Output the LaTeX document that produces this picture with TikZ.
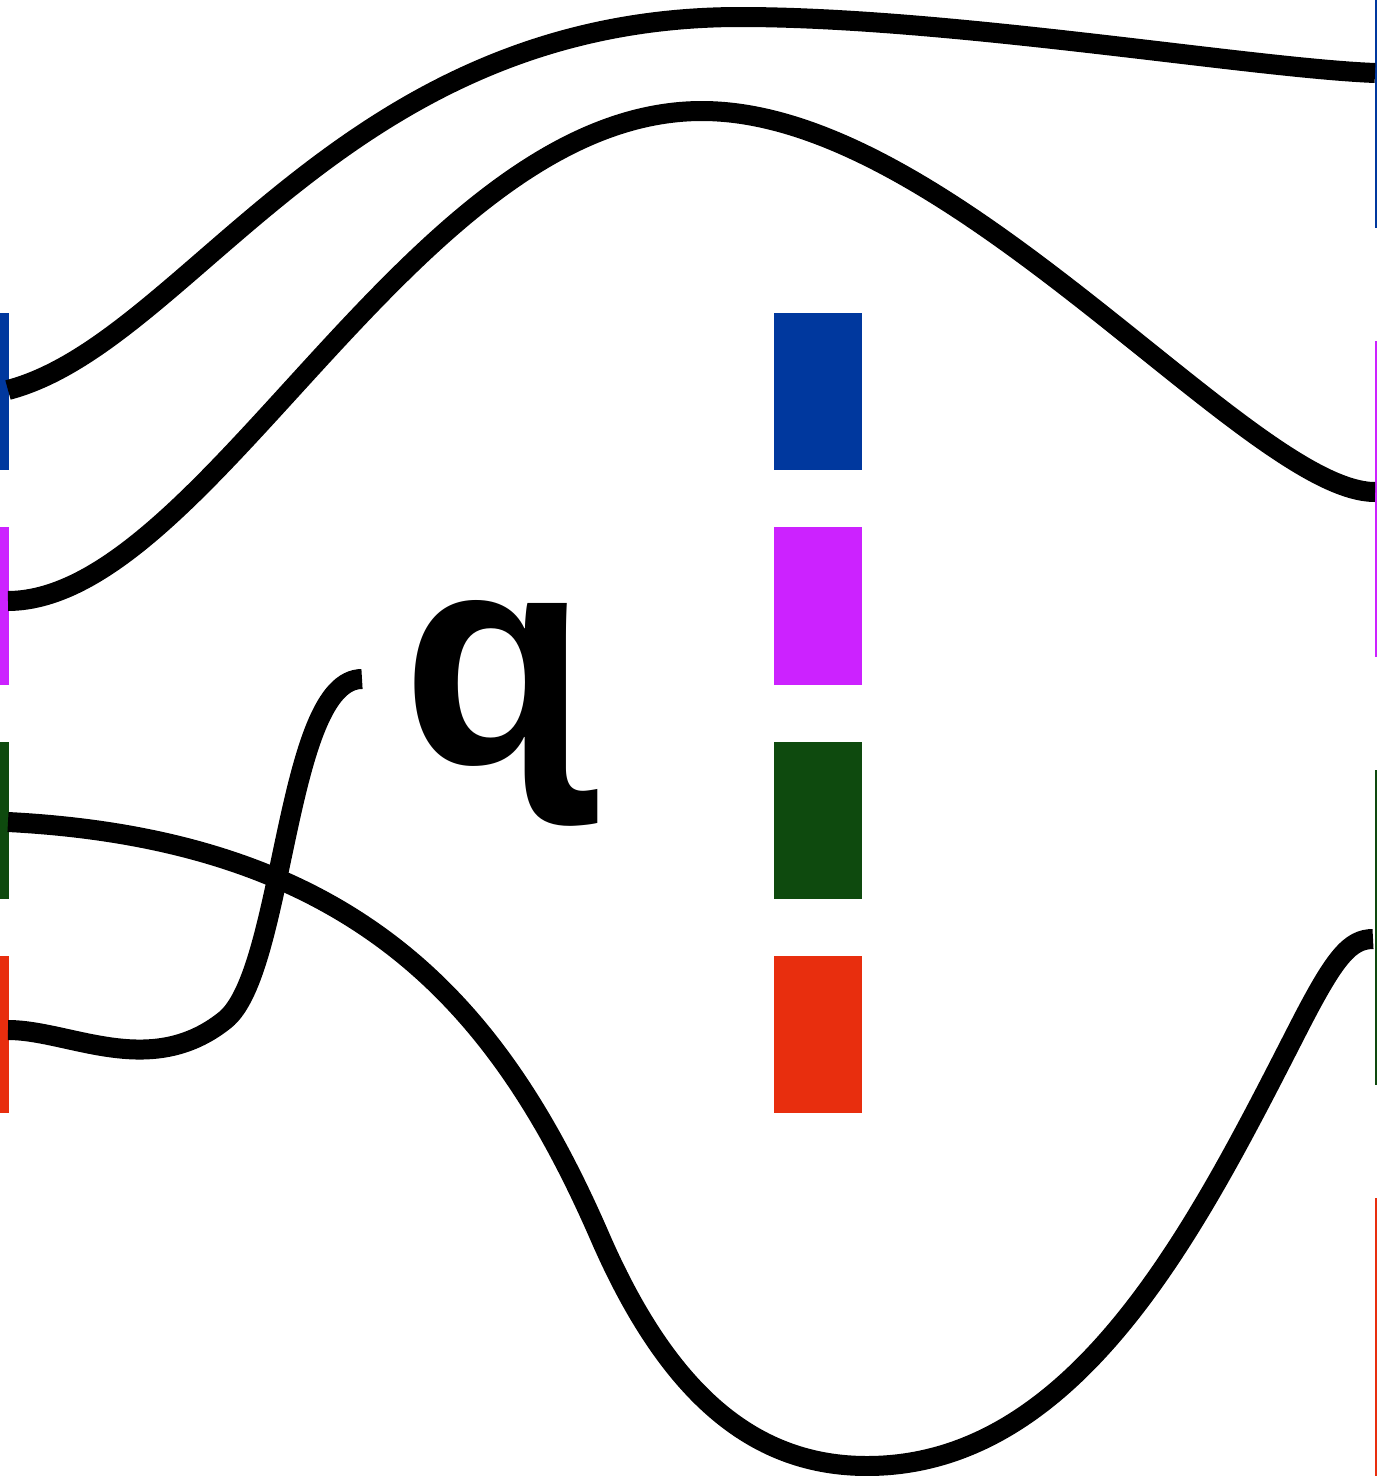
\documentclass[tikz,border=0pt]{standalone}
\usepackage{fontspec}
\newfontfamily\glyphfont{Liberation Sans}
\definecolor{cblue}{RGB}{0,56,158}
\definecolor{cmag}{RGB}{204,34,255}
\definecolor{cgreen}{RGB}{14,74,14}
\definecolor{cred}{RGB}{232,46,14}
\tikzset{
  bar/.style={rectangle,inner sep=0pt,outer sep=0pt,draw=none,minimum width=9pt,minimum height=157pt},
  sq/.style={bar,minimum width=88pt},
  rbar/.style={rectangle,inner sep=0pt,outer sep=0pt,draw=none,minimum width=2pt},
  wire/.style={line width=20pt,line cap=butt,draw=black}
}
\begin{document}
\begin{tikzpicture}[x=1pt,y=-1pt]
\path[use as bounding box,fill=white] (0,0) rectangle (1377,1476);
% left bars
\node[bar,fill=cblue]  (lb) at (4.5,391.5) {};
\node[bar,fill=cmag,minimum height=158pt] (lm) at (4.5,606) {};
\node[bar,fill=cgreen] (lg) at (4.5,820.5) {};
\node[bar,fill=cred]   (lr) at (4.5,1034.5) {};
% middle squares
\node[sq,fill=cblue]  (mb) at (818,391.5) {};
\node[sq,fill=cmag,minimum height=158pt] (mm) at (818,606) {};
\node[sq,fill=cgreen] (mg) at (818,820.5) {};
\node[sq,fill=cred]   (mr) at (818,1034.5) {};
% right bars
\node[rbar,fill=cblue,minimum height=228pt]  (rb) at (1376,114) {};
\node[rbar,fill=cmag,minimum height=316pt]   (rm) at (1376,499) {};
\node[rbar,fill=cgreen,minimum height=315pt] (rg) at (1376,927.5) {};
\node[rbar,fill=cred,minimum height=278pt]   (rr) at (1376,1337) {};
% glyph
\node[inner sep=0pt,outer sep=0pt,anchor=north west] (q) at (402,600)
  {\fontsize{303}{320}\selectfont\glyphfont\bfseries ɋ};
% wire end points
\coordinate (b0) at (8,390);
\coordinate (b1) at (1375,73);
\coordinate (m0) at (8,601);
\coordinate (m1) at (1375,492);
\coordinate (g0) at (8,822);
\coordinate (g1) at (1373,939);
\coordinate (r0) at (8,1030);
\coordinate (r1) at (362,679);
% wires
\draw[wire] (b0) .. controls (190,342) and (340,17) .. (740,17)
                 .. controls (950,17) and (1250,68) .. (b1);
\draw[wire] (m0) .. controls (208,600) and (415,111) .. (702,111)
                 .. controls (952,111) and (1250,492) .. (m1);
\draw[wire] (g0) .. controls (358,840) and (500,1007) .. (600,1237)
                 .. controls (670,1398) and (757,1466) .. (867,1466)
                 .. controls (1080,1466) and (1200,1220) .. (1300,1025)
                 .. controls (1335,957) and (1350,939) .. (g1);
\draw[wire] (r0) .. controls (70,1030) and (150,1080) .. (225,1020)
                 .. controls (285,972) and (285,679) .. (r1);
\end{tikzpicture}
\end{document}
